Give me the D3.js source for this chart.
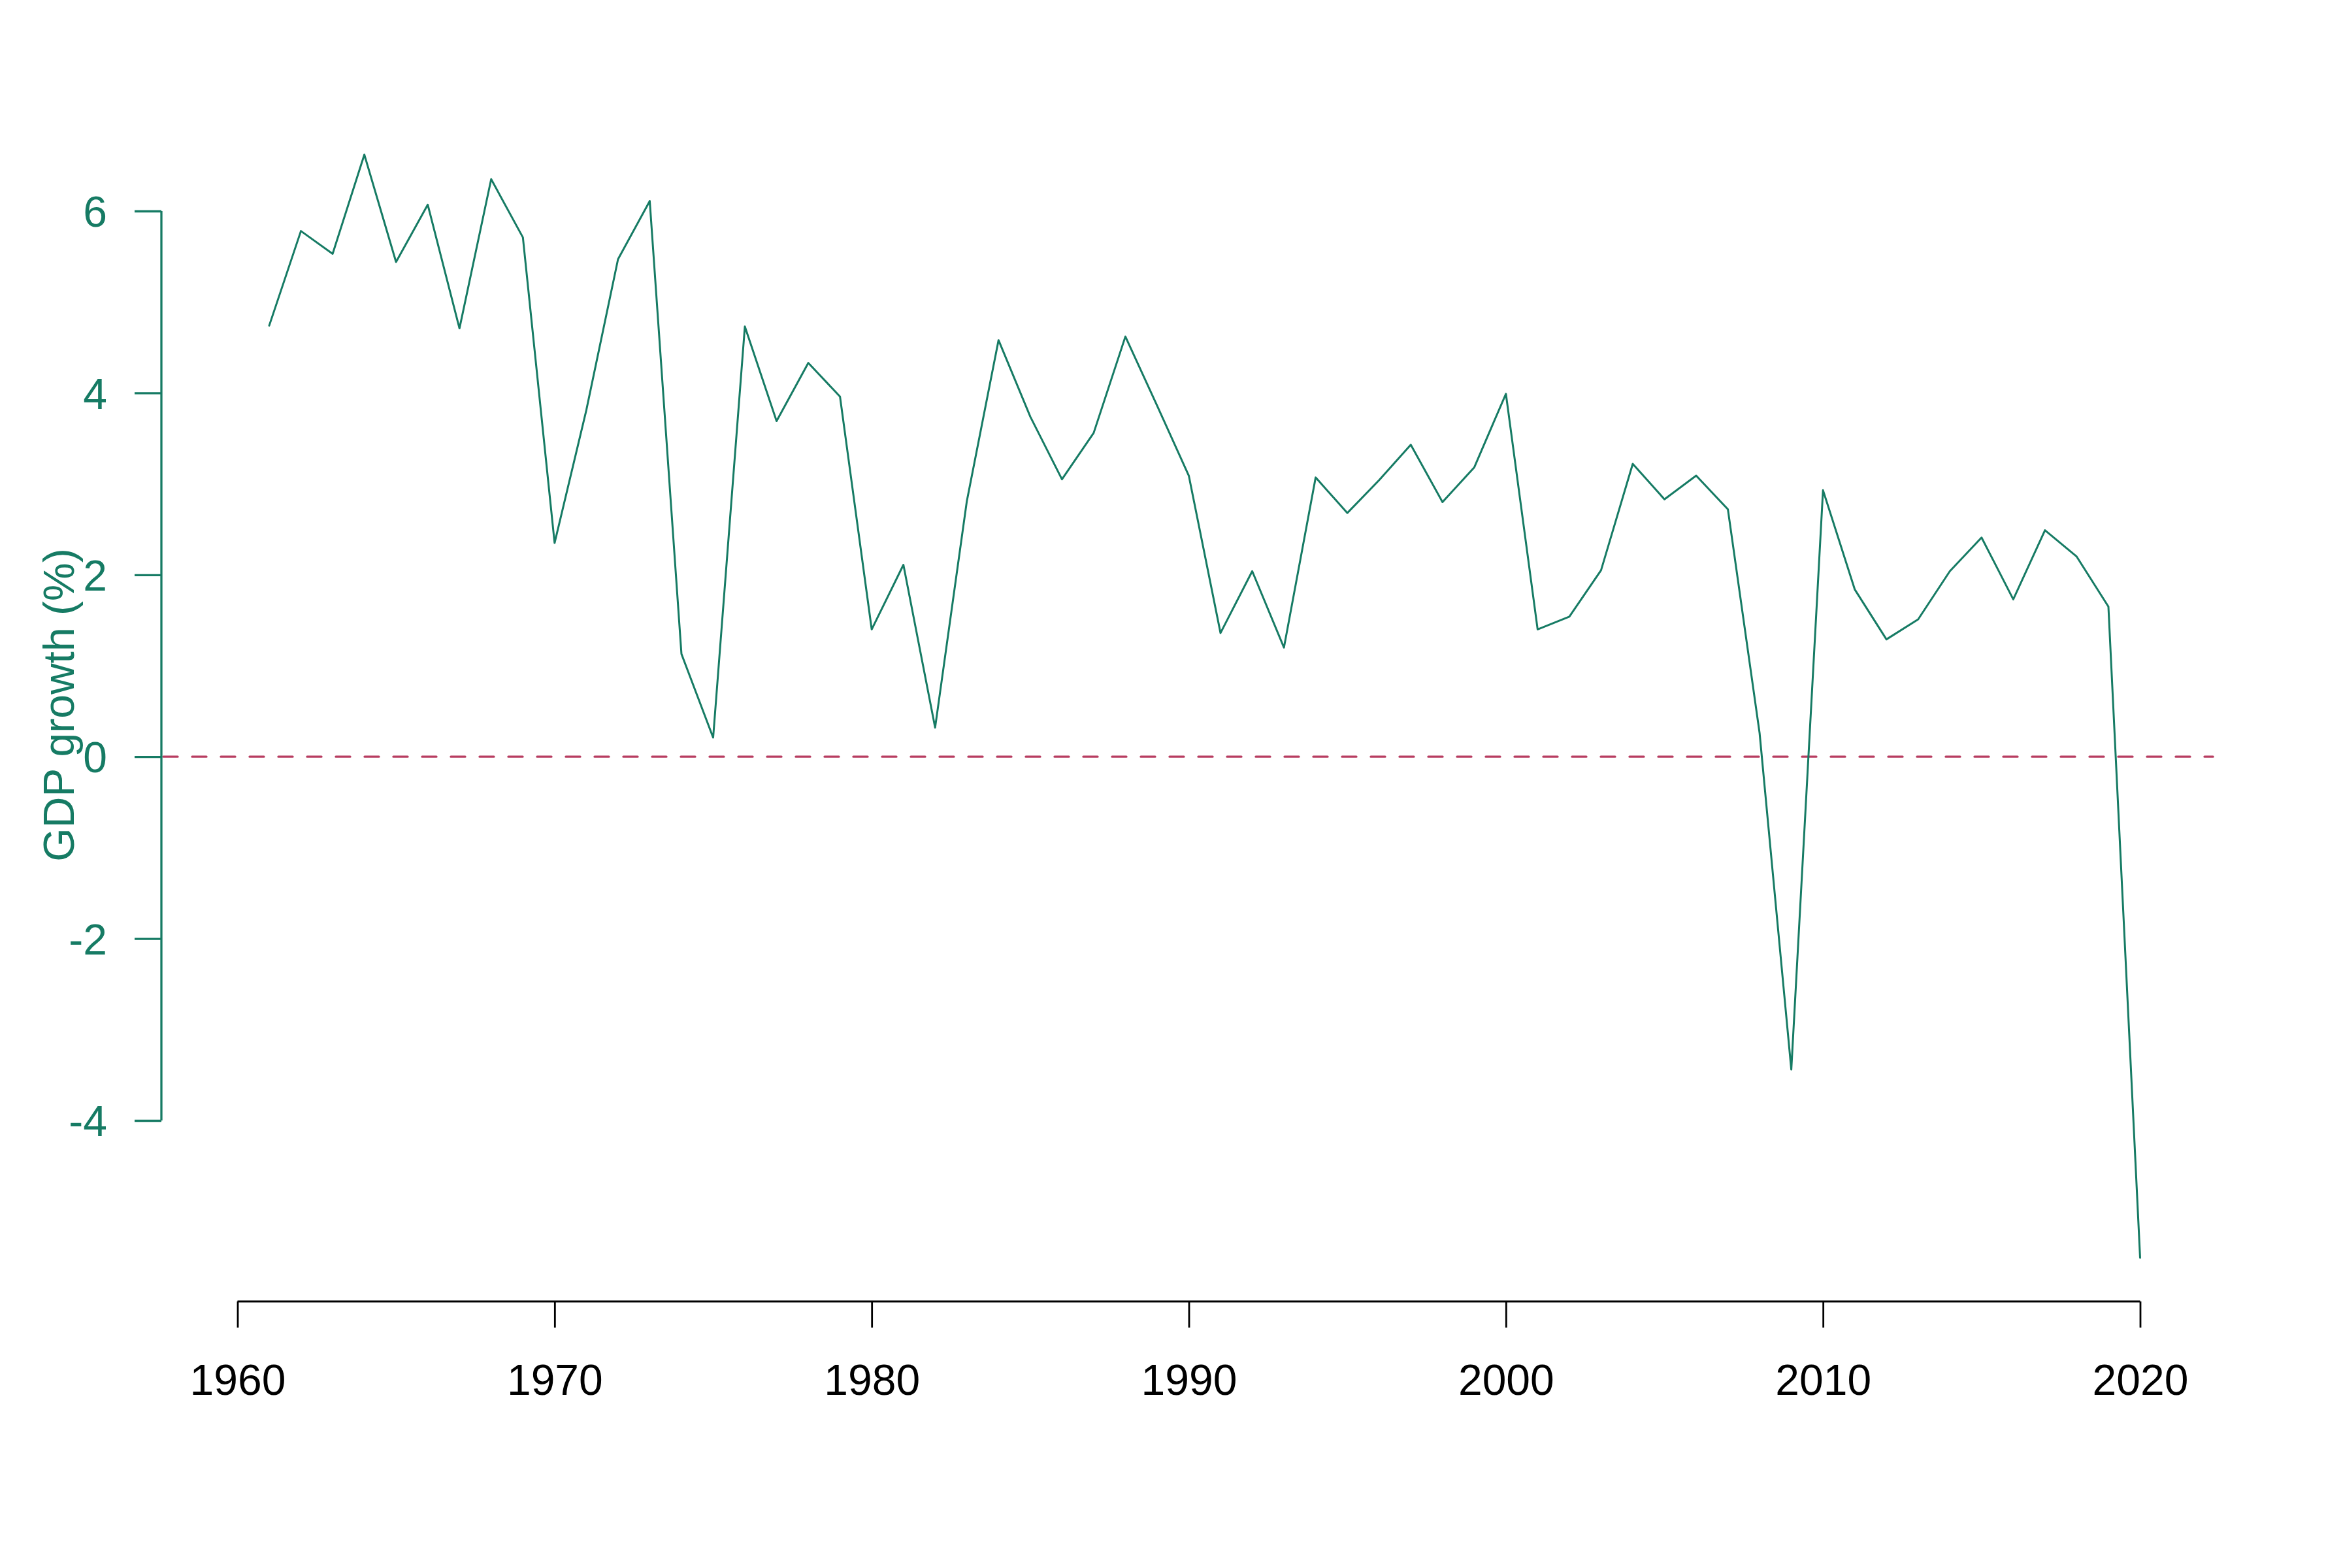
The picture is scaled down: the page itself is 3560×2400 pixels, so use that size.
<!DOCTYPE html>
<html>
<head>
<meta charset="utf-8">
<script src="https://cdn.jsdelivr.net/npm/d3@7"></script>
<style>
  html, body { margin: 0; padding: 0; background: #ffffff; }
  svg { display: block; }
  text { font-family: "Liberation Sans", Arial, Helvetica, sans-serif; }
</style>
</head>
<body>
<script>
// ---- data ----
const years = [1961,1962,1963,1964,1965,1966,1967,1968,1969,1970,
               1971,1972,1973,1974,1975,1976,1977,1978,1979,1980,
               1981,1982,1983,1984,1985,1986,1987,1988,1989,1990,
               1991,1992,1993,1994,1995,1996,1997,1998,1999,2000,
               2001,2002,2003,2004,2005,2006,2007,2008,2009,2010,
               2011,2012,2013,2014,2015,2016,2017,2018,2019,2020];
const gdpGrowth = [4.74,5.78,5.53,6.62,5.44,6.07,4.71,6.35,5.71,2.35,
                   3.81,5.47,6.11,1.13,0.21,4.73,3.69,4.33,3.96,1.40,
                   2.11,0.32,2.81,4.58,3.74,3.05,3.56,4.62,3.86,3.09,
                   1.36,2.04,1.20,3.07,2.68,3.04,3.43,2.80,3.18,3.99,
                   1.40,1.54,2.05,3.22,2.83,3.09,2.72,0.26,-3.44,2.93,
                   1.84,1.29,1.51,2.04,2.41,1.73,2.49,2.20,1.65,-5.51];
const xTicks = [1960,1970,1980,1990,2000,2010,2020];
const yTicks = [-4,-2,0,2,4,6];
const yTitle = "GDP growth (%)";
const refLine = 0;

// ---- layout ----
const W = 3560, H = 2400;
const green = "#167b64";
const red = "#b83d60";
const fontSize = 66;

const x = d3.scaleLinear().domain([1960, 2020]).range([363.5, 3275.5]);
const y = d3.scaleLinear().domain([-4, 6]).range([1715, 323]);
const axisX = 247;      // y-axis position (px)
const axisY = 1992;     // x-axis position (px)
const plotRight = x(2022.3);

const svg = d3.select("body").append("svg")
  .attr("width", W).attr("height", H)
  .attr("viewBox", `0 0 ${W} ${H}`);
svg.append("rect").attr("width", W).attr("height", H).attr("fill", "#fff");

// reference line at zero
svg.append("line")
  .attr("x1", axisX + 3).attr("x2", plotRight)
  .attr("y1", y(refLine)).attr("y2", y(refLine))
  .attr("stroke", red).attr("stroke-width", 3.3)
  .attr("stroke-linecap", "round")
  .attr("stroke-dasharray", "22,22");

// data line
const line = d3.line().x((d, i) => x(years[i])).y(d => y(d));
svg.append("path")
  .datum(gdpGrowth)
  .attr("d", line)
  .attr("fill", "none")
  .attr("stroke", green)
  .attr("stroke-width", 3)
  .attr("stroke-linejoin", "round")
  .attr("stroke-linecap", "round");

// y axis
const yAxis = d3.axisLeft(y).tickValues(yTicks).tickSize(41).tickPadding(42)
  .tickFormat(d => String(d));
const gy = svg.append("g").attr("transform", `translate(${axisX},0)`).call(yAxis);
gy.select(".domain").attr("stroke", green).attr("stroke-width", 3.3)
  .attr("d", `M0,${y(6)}V${y(-4)}`);
gy.selectAll(".tick line").attr("stroke", green).attr("stroke-width", 3.3);
gy.selectAll(".tick text").attr("fill", green)
  .attr("font-size", fontSize)
  .attr("font-family", "Liberation Sans, Arial, sans-serif")
  .attr("dy", "0.36em");

// x axis
const xAxis = d3.axisBottom(x).tickValues(xTicks).tickSize(40).tickPadding(56)
  .tickFormat(d => String(d));
const gx = svg.append("g").attr("transform", `translate(0,${axisY})`).call(xAxis);
gx.select(".domain").attr("stroke", "#000").attr("stroke-width", 2.8)
  .attr("d", `M${x(1960)},0H${x(2020)}`);
gx.selectAll(".tick line").attr("stroke", "#000").attr("stroke-width", 2.8);
gx.selectAll(".tick text").attr("fill", "#000")
  .attr("font-size", fontSize)
  .attr("font-family", "Liberation Sans, Arial, sans-serif")
  .attr("dy", "0.71em");

// y title
svg.append("text")
  .attr("transform", `translate(113,${(y(6) + y(-4)) / 2 + 60}) rotate(-90)`)
  .attr("text-anchor", "middle")
  .attr("fill", green)
  .attr("font-size", fontSize)
  .text(yTitle);
</script>
</body>
</html>
